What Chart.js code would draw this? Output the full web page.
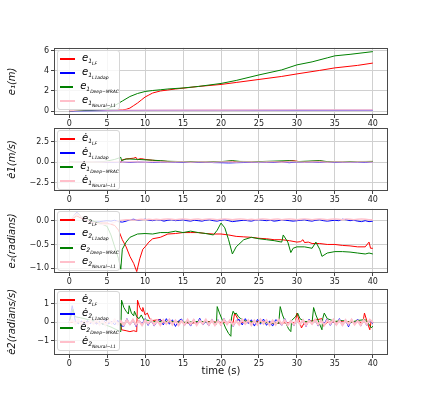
<!DOCTYPE html>
<html><head><meta charset="utf-8">
<script src="https://cdn.jsdelivr.net/npm/chart.js@4/dist/chart.umd.min.js"></script>
<style>
html,body{margin:0;padding:0;background:#fff;}
#wrap{position:relative;width:432px;height:399px;background:#fff;overflow:hidden;}
canvas{position:absolute;left:0;}
.lg{position:absolute;left:57px;width:63px;height:60px;background:rgba(255,255,255,0.8);border:1px solid #d6d6d6;border-radius:3px;box-sizing:border-box;padding-top:1px;font-family:'DejaVu Sans',sans-serif;color:#000;}
.row{height:14px;display:flex;align-items:center;}
.ln{display:inline-block;width:15px;height:2px;margin-left:2px;margin-right:7px;}
.tx{font-size:10px;font-style:italic;line-height:1;white-space:nowrap;}
.tx sub{font-size:6px;vertical-align:-2px;}
.tx sub sub{font-size:4.5px;vertical-align:-1.5px;}
</style></head>
<body><div id="wrap"></div>
<script>
// ---------- shared ----------
const seriesNames = ['LF', 'L1adap', 'Deep\u2212MRAC', 'Neural\u2212L1'];
const seriesColors = ['#ff0000', '#0000ff', '#008000', '#ffc0cb'];
const xTicks = [0, 5, 10, 15, 20, 25, 30, 35, 40];
const yTitles = ['e\u2081(m)', '\u01171(m/s)', 'e\u2082(radians)', '\u01172(radians/s)'];
const legendBase = ['e', '\u0117', 'e', '\u0117'];
const legendIdx = ['1', '1', '2', '2'];

// ---------- panel 1: e1 (m) ----------
const p1YTicks = [0, 2, 4, 6];
const p1YLabels = ['0', '2', '4', '6'];
const t1LF = [0, 2, 4, 6, 7, 7.5, 8, 8.5, 9, 9.5, 10, 10.5, 11, 12, 13, 14, 15, 17, 20, 22, 25, 28, 30, 33, 35, 38, 40];
const e1LF = [0.03, 0.08, 0.1, 0.1, 0.12, 0.17, 0.3, 0.55, 0.8, 1.1, 1.4, 1.6, 1.8, 2.0, 2.1, 2.2, 2.28, 2.45, 2.65, 2.85, 3.15, 3.45, 3.7, 4.05, 4.3, 4.55, 4.78];
const t1L1 = [0, 5, 10, 20, 30, 40];
const e1L1 = [0.02, 0.05, 0.07, 0.08, 0.09, 0.09];
const t1DM = [0, 2, 4, 5, 6, 7, 8, 9, 10, 11, 12, 13, 15, 17, 20, 22, 25, 28, 30, 32, 34, 35, 37, 40];
const e1DM = [0.03, 0.1, 0.12, 0.2, 0.55, 1.0, 1.45, 1.75, 1.95, 2.05, 2.12, 2.2, 2.3, 2.45, 2.75, 3.05, 3.6, 4.1, 4.6, 4.9, 5.3, 5.5, 5.65, 5.92];
const t1NL = [0, 1, 2, 3, 4, 5, 10, 20, 30, 40];
const e1NL = [0.05, 0.1, 0.15, 0.15, 0.12, 0.1, 0.1, 0.11, 0.12, 0.12];

// ---------- panel 2: e1 dot (m/s) ----------
const p2YTicks = [-2.5, 0, 2.5];
const p2YLabels = ['\u22122.5', '0.0', '2.5'];
const t2LF = [0, 6.8, 7, 7.5, 8, 8.5, 8.8, 9, 9.2, 9.5, 10, 11, 12, 13, 15, 20, 21.5, 22, 25, 28, 29.5, 30.5, 33, 34, 40];
const e2dLF = [0, 0, 0.3, 0.4, 0.45, 0.5, 0.6, 0.3, 0.4, 0.45, 0.35, 0.25, 0.15, 0.1, 0.05, 0.05, 0.15, 0.05, 0.05, 0.08, 0.2, 0.05, 0.15, 0.05, 0.1];
const t2Grid = [0,1,2,3,4,5,6,7,8,9,10,11,12,13,14,15,16,17,18,19,20,21,22,23,24,25,26,27,28,29,30,31,32,33,34,35,36,37,38,39,40];
const e2dL1 = [0,0,0.02,-0.02,0.03,0,-0.03,0.02,-0.02,0.04,0,-0.03,0.02,-0.02,0.01,-0.03,0.02,-0.02,0.03,-0.04,-0.05,-0.08,-0.05,-0.03,0.02,-0.04,0.02,-0.03,0.03,-0.05,0.02,-0.02,0.03,-0.02,0.02,-0.02,0.03,-0.02,0.02,-0.03,0.02];
const t2DM = [0, 4, 5, 6, 6.8, 6.9, 7.5, 8, 9, 10, 11, 12, 13, 15, 20, 21.5, 22.5, 25, 29, 30, 33, 34, 40];
const e2dDM = [0, 0, 0.15, 0.35, 0.6, 0.2, 0.4, 0.4, 0.35, 0.3, 0.25, 0.2, 0.12, 0.08, 0.08, 0.2, 0.1, 0.08, 0.2, 0.08, 0.2, 0.08, 0.1];
const e2dNL = [0,0.02,0.03,0.02,0.03,0.05,0.04,0.03,0.05,0.04,0.03,0.05,0.04,0.03,0.04,0.05,0.03,0.04,0.05,0.03,0.04,0.05,0.03,0.04,0.05,0.03,0.04,0.05,0.03,0.04,0.05,0.03,0.04,0.05,0.03,0.04,0.05,0.03,0.04,0.05,0.03];

// ---------- panel 3: e2 (radians) ----------
const p3YTicks = [-1, -0.5, 0];
const p3YLabels = ['\u22121.0', '\u22120.5', '0.0'];
const t3LF = [0, 1, 2, 3, 4, 5, 6, 6.5, 7, 7.5, 8, 8.5, 8.9, 9.3, 9.7, 10, 10.5, 11, 12, 13, 14, 15, 16, 17, 18, 19, 20, 21, 22, 23, 24, 25, 26, 27, 28, 29, 30, 30.5, 30.8, 31, 31.5, 32, 33, 34, 35, 36, 37, 38, 39, 39.5, 39.7, 40];
const e3LF = [0, 0.1, 0.02, -0.03, -0.05, -0.05, -0.1, -0.2, -0.4, -0.55, -0.75, -0.9, -1.07, -0.8, -0.6, -0.55, -0.45, -0.38, -0.35, -0.28, -0.27, -0.25, -0.25, -0.25, -0.27, -0.28, -0.28, -0.3, -0.33, -0.34, -0.35, -0.37, -0.38, -0.4, -0.4, -0.42, -0.45, -0.44, -0.4, -0.46, -0.45, -0.48, -0.48, -0.5, -0.5, -0.52, -0.53, -0.55, -0.55, -0.45, -0.58, -0.58];
const t3Grid = [0,0.5,1,1.5,2,2.5,3,3.5,4,4.5,5,5.5,6,6.5,7,7.5,8,8.5,9,9.5,10,10.5,11,11.5,12,12.5,13,13.5,14,14.5,15,15.5,16,16.5,17,17.5,18,18.5,19,19.5,20,20.5,21,21.5,22,22.5,23,23.5,24,24.5,25,25.5,26,26.5,27,27.5,28,28.5,29,29.5,30,30.5,31,31.5,32,32.5,33,33.5,34,34.5,35,35.5,36,36.5,37,37.5,38,38.5,39,39.5,40];
const e3L1 = [0,0.08,0.18,0.1,0.03,0,-0.02,-0.03,-0.02,-0.01,
  0,-0.01,0.01,-0.02,-0.03,-0.01,0.02,0.03,0.01,0.02,
  0.03,0.01,0,0.02,0.01,-0.01,0.01,0.02,0,0.01,
  0.02,0,-0.01,0.01,0,-0.01,0.01,0.02,0,-0.01,
  0.01,0.02,0,-0.02,-0.01,0,0.01,0,-0.01,0.01,
  0.02,0.01,0,0.01,-0.01,0,0.02,0.01,0,-0.01,
  0,0.01,0.02,0,-0.01,0.01,0.02,0,-0.01,0,
  0.01,0,0.03,0.02,0,0.01,-0.01,-0.02,0,-0.02,
  -0.01];
const t3DM = [0, 1, 2, 3, 4, 5, 5.5, 6, 6.5, 6.8, 7, 7.5, 8, 9, 10, 11, 12, 13, 14, 15, 16, 17, 18, 19, 19.5, 20, 20.5, 21, 21.5, 22, 23, 24, 25, 26, 27, 28, 28.2, 28.8, 29.2, 29.5, 30, 31, 32, 32.5, 33, 33.3, 34, 35, 36, 37, 38, 39, 39.5, 40];
const e3DM = [0, 0.15, 0.05, 0, -0.05, -0.12, -0.3, -0.55, -0.8, -1.02, -0.6, -0.45, -0.35, -0.28, -0.27, -0.28, -0.25, -0.25, -0.22, -0.25, -0.22, -0.25, -0.27, -0.3, -0.2, -0.05, -0.15, -0.4, -0.7, -0.55, -0.4, -0.35, -0.38, -0.4, -0.42, -0.45, -0.3, -0.45, -0.67, -0.58, -0.55, -0.55, -0.58, -0.45, -0.6, -0.75, -0.68, -0.65, -0.65, -0.66, -0.68, -0.7, -0.68, -0.7];
const e3NL = [0,0.08,0.15,0.1,0.05,0,-0.03,-0.05,-0.07,-0.08,
  -0.08,-0.06,-0.03,0,0.01,0.02,0.02,0.01,0.02,0.03,
  0.02,0.03,0.02,0.03,0.02,0.03,0.04,0.03,0.02,0.03,
  0.04,0.03,0.02,0.03,0.04,0.02,0.03,0.04,0.03,0.02,
  0.03,0.04,0.03,0.02,0.03,0.04,0.03,0.02,0.03,0.02,
  0.03,0.04,0.03,0.02,0.03,0.04,0.02,0.03,0.04,0.03,
  0.02,0.03,0.04,0.03,0.02,0.03,0.04,0.03,0.02,0.03,
  0.04,0.03,0.02,0.04,0.03,0.02,0.03,0.04,0.03,0.02,
  0.02];

// ---------- panel 4: e2 dot (radians/s) ----------
const p4YTicks = [-1, 0, 1];
const p4YLabels = ['\u22121', '0', '1'];
const t4LF = [0, 2, 4, 6, 6.8, 6.9, 7.5, 8, 8.5, 8.9, 9.0, 9.3, 9.6, 9.7, 10, 10.3, 10.6, 11, 12, 12.5, 14, 16, 18, 20, 21.6, 21.8, 22.2, 22.6, 25, 27, 29.8, 30, 30.3, 30.6, 31, 33.3, 33.5, 34, 36, 38.7, 38.9, 39.2, 39.6, 39.8, 40];
const e4LF = [0, 0.05, -0.05, 0.05, 0, -0.4, -0.45, -0.5, -0.45, -0.5, 1.2, 0.8, 0.6, 0.8, 0.4, 0.5, 0.2, 0.1, 0.15, 0, 0.05, -0.05, 0.05, 0, 0, 0.5, 0.2, 0, 0.05, -0.05, 0, 0.5, 0.1, -0.3, 0, 0.2, -0.2, 0, 0.05, 0, 0.5, 0.1, -0.4, 0.1, 0];
const t4DM = [0, 0.5, 0.8, 1.5, 2.5, 3.5, 4.5, 5.5, 6.5, 6.8, 6.9, 7.2, 7.5, 7.8, 7.9, 8.2, 8.5, 8.6, 8.9, 9.2, 9.5, 9.8, 10.5, 11, 13, 15, 17, 19.3, 19.4, 19.5, 19.8, 20.2, 20.6, 21, 21.3, 21.4, 21.6, 21.8, 22, 22.3, 22.6, 23, 23.5, 25, 27.6, 27.8, 28.1, 28.5, 28.9, 29.2, 29.3, 29.8, 30.1, 30.4, 31, 32, 32.2, 32.5, 32.9, 33.3, 33.4, 33.6, 34, 35, 36, 37, 38, 39, 39.5, 39.8, 40];
const e4DM = [0, 0.7, 0.3, 0.25, 0.15, 0.05, -0.1, -0.25, -0.45, -0.5, 1.2, 0.8, 0.6, 0.45, 0.9, 0.5, 0.35, 0.6, 0.3, 0.2, 0.4, 0.15, 0.1, 0.05, 0.05, 0, 0.05, 0, -0.1, 0.85, 0.5, 0.1, -0.3, -0.6, -0.75, 0.3, 0.6, 0.45, 0.5, 0.3, 0.2, 0.1, 0.05, 0, -0.05, 0.85, 0.4, 0, -0.35, -0.5, 0.1, 0.3, 0.5, 0.2, 0.05, 0, 0.8, 0.4, 0, -0.4, 0.2, 0.5, 0.2, 0.05, 0.1, 0, 0.1, 0.15, -0.1, -0.3, -0.2];
const t4Grid = [0,0.4,0.8,1.2,1.6,2,2.4,2.8,3.2,3.6,4,4.4,4.8,5.2,5.6,6,6.4,6.8,7.2,7.6,8,8.4,8.8,9.2,9.6,10,10.4,10.8,11.2,11.6,12,12.4,12.8,13.2,13.6,14,14.4,14.8,15.2,15.6,16,16.4,16.8,17.2,17.6,18,18.4,18.8,19.2,19.6,20,20.4,20.8,21.2,21.6,22,22.4,22.8,23.2,23.6,24,24.4,24.8,25.2,25.6,26,26.4,26.8,27.2,27.6,28,28.4,28.8,29.2,29.6,30,30.4,30.8,31.2,31.6,32,32.4,32.8,33.2,33.6,34,34.4,34.8,35.2,35.6,36,36.4,36.8,37.2,37.6,38,38.4,38.8,39.2,39.6,40];
const e4L1 = [0,0.9,0.1,-0.08,0.08,-0.12,0.1,-0.08,0.12,-0.1,
  0.06,-0.12,0.14,-0.08,0.05,-0.14,0.12,-0.18,-0.22,0.2,
  -0.14,0.16,-0.22,0.1,-0.08,0.2,-0.16,0.14,-0.2,0.08,
  0.16,-0.14,0.2,-0.1,0.14,-0.22,0.08,0.18,-0.16,0.1,
  -0.2,0.16,-0.08,0.22,-0.14,0.06,-0.18,0.16,-0.1,0.14,
  -0.16,0.2,-0.08,0.14,-0.22,0.1,0.16,-0.14,0.2,-0.06,
  0.14,-0.2,0.16,-0.1,0.18,-0.16,0.08,-0.2,0.14,0.06,
  -0.16,0.2,-0.14,0.1,-0.18,0.16,-0.08,0.14,-0.22,0.18,
  -0.1,0.16,-0.2,0.14,-0.06,0.2,-0.16,0.1,-0.14,0.2,
  -0.18,0.14,-0.24,0.16,-0.08,0.18,-0.2,0.14,-0.16,0.1,
  -0.06];
const e4NL = [0,0.14,-0.1,0.15,-0.13,0.1,-0.15,0.12,-0.08,0.15,
  -0.12,0.1,-0.15,0.13,-0.07,0.15,-0.12,0.08,-0.15,0.13,
  -0.1,0.15,-0.13,0.08,-0.15,0.12,-0.07,0.15,-0.12,0.1,
  -0.15,0.13,-0.08,0.15,-0.12,0.1,-0.15,0.08,-0.13,0.15,
  -0.1,0.13,-0.15,0.1,-0.08,0.15,-0.13,0.12,-0.15,0.08,
  -0.13,0.15,-0.1,0.12,-0.15,0.08,-0.13,0.15,-0.08,0.12,
  -0.15,0.1,-0.13,0.15,-0.08,0.12,-0.15,0.1,-0.12,0.15,
  -0.1,0.12,-0.15,0.08,-0.13,0.15,-0.1,0.12,-0.15,0.1,
  -0.08,0.15,-0.12,0.1,-0.15,0.12,-0.08,0.15,-0.13,0.1,
  -0.15,0.12,-0.1,0.15,-0.12,0.08,-0.15,0.12,-0.1,0.14,
  0];

// ---------- build ----------
function pts(xs, ys) { return xs.map((x, i) => ({ x: x, y: ys[i] })); }

const panels = [
  { top: 47, bottom: 115, ymin: -0.39, ymax: 6.3, yt: p1YTicks, yl: p1YLabels, nlw: 1.3,
    series: [[t1LF, e1LF], [t1L1, e1L1], [t1DM, e1DM], [t1NL, e1NL]] },
  { top: 127, bottom: 191, ymin: -3.5, ymax: 4.2, yt: p2YTicks, yl: p2YLabels, nlw: 1.3,
    series: [[t2LF, e2dLF], [t2Grid, e2dL1], [t2DM, e2dDM], [t2Grid, e2dNL]] },
  { top: 208, bottom: 273, ymin: -1.1, ymax: 0.25, yt: p3YTicks, yl: p3YLabels, nlw: 1.3,
    series: [[t3LF, e3LF], [t3Grid, e3L1], [t3DM, e3DM], [t3Grid, e3NL]] },
  { top: 288, bottom: 355, ymin: -1.76, ymax: 1.81, yt: p4YTicks, yl: p4YLabels, nlw: 2,
    series: [[t4LF, e4LF], [t4Grid, e4L1], [t4DM, e4DM], [t4Grid, e4NL]] }
];

const framePlugin = {
  id: 'frame',
  afterDraw(c) {
    const a = c.chartArea, ctx = c.ctx;
    ctx.save();
    ctx.strokeStyle = '#4a4a4a';
    ctx.lineWidth = 1;
    ctx.strokeRect(Math.round(a.left) + 0.5, Math.round(a.top) + 0.5, Math.round(a.right - a.left) - 1, Math.round(a.bottom - a.top) - 1);
    ctx.restore();
  }
};

const wrap = document.getElementById('wrap');
const PADTOP = 6;
panels.forEach((p, pi) => {
  const last = pi === panels.length - 1;
  const xH = last ? 25 : 12;
  const h = PADTOP + (p.bottom - p.top) + xH;
  const cv = document.createElement('canvas');
  cv.width = 432; cv.height = h;
  cv.style.width = '432px'; cv.style.height = h + 'px';
  cv.style.top = (p.top - PADTOP) + 'px';
  wrap.appendChild(cv);

  const datasets = p.series.map((s, si) => ({
    data: pts(s[0], s[1]),
    borderColor: seriesColors[si],
    borderWidth: si === 3 ? p.nlw : 1,
    pointRadius: 0,
    fill: false,
    tension: 0,
    order: 4 - si
  }));

  new Chart(cv, {
    type: 'line',
    data: { datasets: datasets },
    plugins: [framePlugin],
    options: {
      responsive: false, animation: false, devicePixelRatio: 1,
      layout: { padding: { top: PADTOP, right: 44, bottom: 0, left: 0 } },
      plugins: { legend: { display: false }, tooltip: { enabled: false } },
      scales: {
        x: {
          type: 'linear', min: -2, max: 42,
          afterBuildTicks: s => { s.ticks = xTicks.map(v => ({ value: v })); },
          afterFit: s => { s.height = xH; },
          ticks: { font: { family: 'DejaVu Sans', size: 8 }, color: '#222', padding: 1, maxRotation: 0, autoSkip: false,
                   callback: v => String(v) },
          grid: { color: '#d0d0d0', lineWidth: 1, tickLength: 3, tickColor: '#444' },
          border: { display: false },
          title: last ? { display: true, text: 'time (s)', font: { family: 'DejaVu Sans', size: 10 }, color: '#111', padding: { top: 0, bottom: 3 } } : { display: false }
        },
        y: {
          type: 'linear', min: p.ymin, max: p.ymax,
          afterBuildTicks: s => { s.ticks = p.yt.map(v => ({ value: v })); },
          afterFit: s => { s.width = 54; },
          ticks: { font: { family: 'DejaVu Sans', size: 8 }, color: '#222', padding: 2, autoSkip: false,
                   callback: v => p.yl[p.yt.indexOf(v)] },
          grid: { color: '#d0d0d0', lineWidth: 1, tickLength: 3, tickColor: '#444' },
          border: { display: false },
          title: { display: true, text: yTitles[pi], font: { family: 'DejaVu Sans', size: 10, style: 'italic' }, color: '#111', padding: { top: 6, bottom: 0 } }
        }
      }
    }
  });

  // legend (HTML, with nested subscripts)
  const lg = document.createElement('div');
  lg.className = 'lg';
  lg.style.top = (p.top + 3) + 'px';
  seriesNames.forEach((n, si) => {
    const row = document.createElement('div');
    row.className = 'row';
    const ln = document.createElement('span');
    ln.className = 'ln';
    ln.style.background = seriesColors[si];
    const tx = document.createElement('span');
    tx.className = 'tx';
    tx.innerHTML = legendBase[pi] + '<sub>' + legendIdx[pi] + '<sub>' + n + '</sub></sub>';
    row.appendChild(ln); row.appendChild(tx);
    lg.appendChild(row);
  });
  wrap.appendChild(lg);
});
</script></body></html>
